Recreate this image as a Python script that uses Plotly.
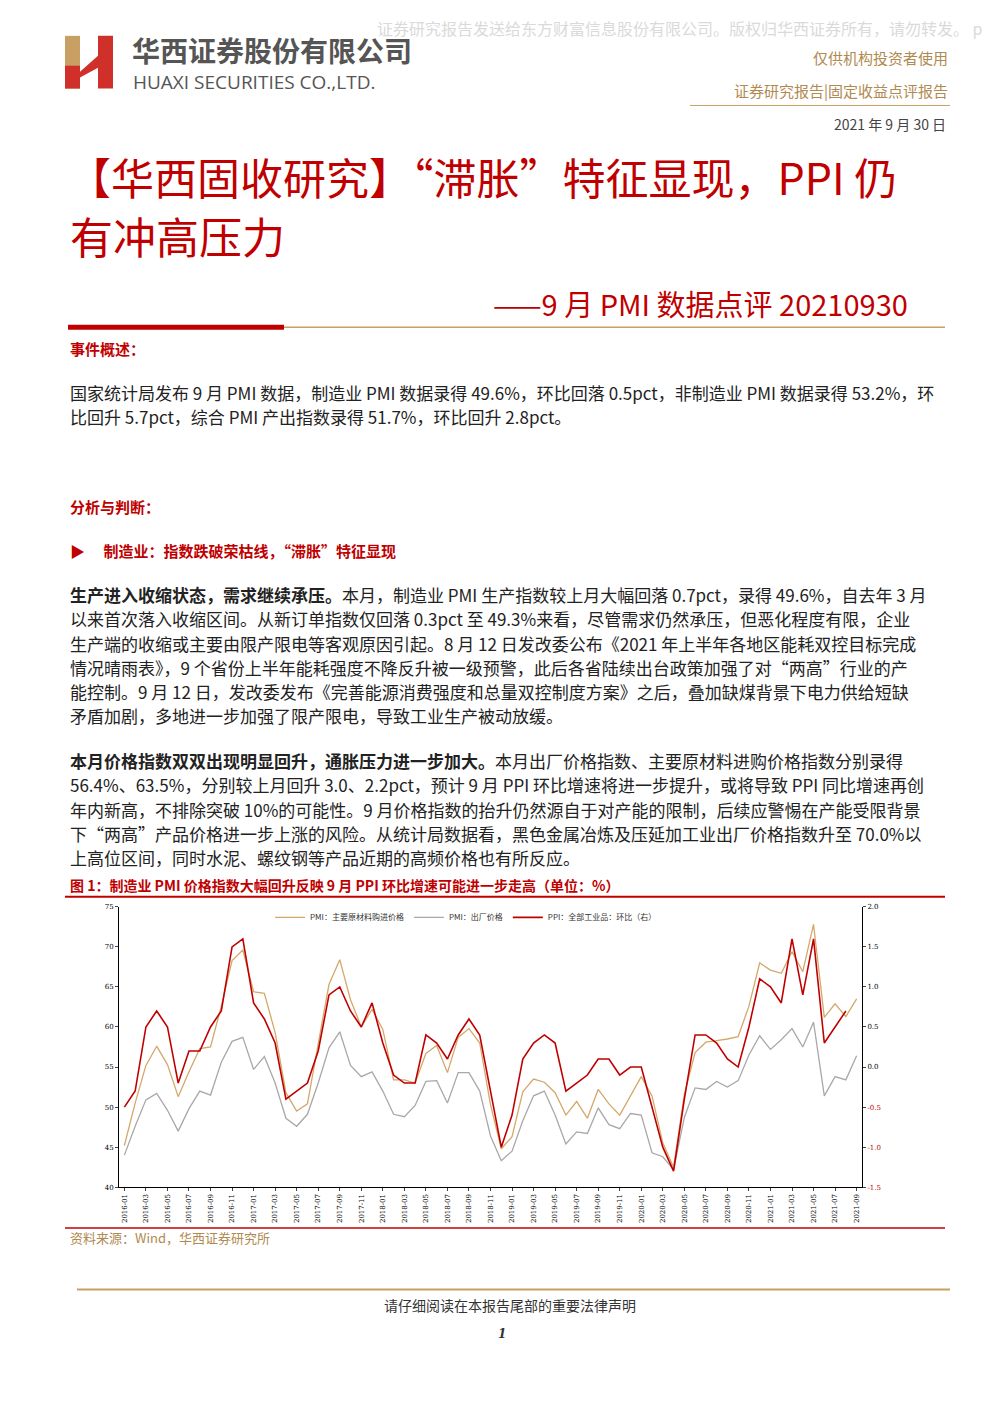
import plotly.graph_objects as go

months = [f"{y}-{m:02d}" for y in range(2016, 2022) for m in range(1, 13)][:69]

input_price = [45.2, 50.5, 55.2, 57.6, 55.3, 51.3, 54.4, 57.3, 57.5, 62.6, 68.3, 69.6,
               64.4, 64.2, 59.3, 51.8, 49.5, 50.4, 57.9, 65.3, 68.4, 63.4, 60.0, 62.2,
               59.7, 53.4, 53.4, 53.0, 56.7, 57.7, 54.3, 58.7, 59.8, 58.0, 50.3, 44.8,
               46.3, 51.9, 53.5, 53.1, 51.8, 49.0, 50.7, 48.6, 52.2, 50.4, 49.0, 51.4,
               53.8, 51.4, 45.5, 42.5, 51.6, 56.8, 58.1, 58.3, 58.5, 58.8, 62.6, 68.0,
               67.1, 66.7, 69.4, 66.9, 72.8, 61.2, 62.9, 61.3, 63.5]
output_price = [44.0, 47.6, 50.9, 51.7, 49.6, 47.0, 49.8, 52.0, 51.5, 55.6, 58.2, 58.7,
                54.7, 56.3, 53.0, 48.6, 47.6, 49.1, 53.0, 57.4, 59.4, 55.2, 53.8, 54.4,
                52.0, 49.1, 48.8, 50.2, 53.2, 53.3, 50.5, 54.3, 54.3, 52.0, 46.4, 43.3,
                44.5, 48.3, 51.4, 52.0, 49.0, 45.4, 46.9, 46.7, 49.9, 47.8, 47.3, 49.2,
                49.0, 44.3, 43.8, 42.2, 48.7, 52.4, 52.2, 53.2, 52.5, 53.3, 56.5, 58.9,
                57.2, 58.4, 59.8, 57.5, 60.6, 51.4, 53.8, 53.4, 56.4]
ppi_mom = [-0.5, -0.3, 0.5, 0.7, 0.5, -0.2, 0.2, 0.2, 0.5, 0.7, 1.5, 1.6,
           0.8, 0.6, 0.3, -0.4, -0.3, -0.2, 0.2, 0.9, 1.0, 0.7, 0.5, 0.8,
           0.3, -0.1, -0.2, -0.2, 0.4, 0.3, 0.1, 0.4, 0.6, 0.4, -0.3, -1.0,
           -0.6, 0.1, 0.3, 0.4, 0.3, -0.3, -0.2, -0.1, 0.1, 0.1, -0.1, 0.0,
           0.0, -0.5, -1.0, -1.3, -0.4, 0.4, 0.4, 0.3, 0.1, 0.0, 0.5, 1.1,
           1.0, 0.8, 1.6, 0.9, 1.6, 0.3, 0.5, 0.7]

right_ticks = [2.0, 1.5, 1.0, 0.5, 0.0, -0.5, -1.0, -1.5]

# the page body has an 8px margin, so the figure is a bit smaller and shifted
OFF = 8
W, H = 993 - 2 * OFF, 1404 - 2 * OFF
RED = "#C00000"
TAN = "#C8A063"
CJK = "Noto Sans CJK SC"

def px(x): return (x - OFF) / W
def py(y): return 1 - (y - OFF) / H

fig = go.Figure()
fig.add_trace(go.Scatter(x=months, y=input_price, name="PMI：主要原材料购进价格",
                         mode="lines", line=dict(color="#D4A86A", width=1.3)))
fig.add_trace(go.Scatter(x=months, y=output_price, name="PMI：出厂价格",
                         mode="lines", line=dict(color="#A8A8A8", width=1.3)))
fig.add_trace(go.Scatter(x=months[:len(ppi_mom)], y=ppi_mom, name="PPI：全部工业品：环比（右）",
                         mode="lines", line=dict(color=RED, width=1.6), yaxis="y2"))

tickfont = dict(family="DejaVu Serif", size=7, color="#000")
fig.update_layout(
    width=W, height=H, margin=dict(l=0, r=0, t=0, b=0),
    paper_bgcolor="white", plot_bgcolor="white", showlegend=True,
    legend=dict(orientation="h", x=px(270), xanchor="left", y=py(904), yanchor="top",
                font=dict(family=CJK, size=8, color="#333"), bgcolor="rgba(0,0,0,0)"),
    xaxis=dict(domain=[px(119), px(862)], type="category", tickangle=-90,
               tickvals=months[::2], tickfont=tickfont, showline=True, linecolor="#000",
               ticks="outside", ticklen=3, showgrid=False, range=[-0.5, 68.5]),
    yaxis=dict(domain=[py(1190), py(908)], range=[40, 75], dtick=5, tickfont=tickfont,
               showline=True, linecolor="#000", ticks="outside", ticklen=3, showgrid=False,
               zeroline=False),
    yaxis2=dict(overlaying="y", side="right", anchor="x", range=[-1.5, 2.0],
                tickvals=right_ticks,
                ticktext=[(f"<span style='color:{RED}'>{v:.1f}</span>" if v < 0 else f"{v:.1f}") for v in right_ticks],
                tickfont=tickfont, showline=True, linecolor="#000", ticks="outside",
                ticklen=3, showgrid=False, zeroline=False),
)

def text(x, y, s, size=17, color="#222", anchor="left", family=CJK, bold=False):
    if bold:
        s = f"<b>{s}</b>"
    fig.add_annotation(x=px(x), y=py(y), xref="paper", yref="paper", text=s, showarrow=False,
                       xanchor=anchor, yanchor="middle", font=dict(family=family, size=size, color=color))

def hline(x0, x1, y, color, width):
    fig.add_shape(type="line", xref="paper", yref="paper", x0=px(x0), x1=px(x1), y0=py(y), y1=py(y),
                  line=dict(color=color, width=width))

# logo
fig.add_shape(type="rect", xref="paper", yref="paper", x0=px(65), x1=px(80), y0=py(85), y1=py(32),
              fillcolor=TAN, line_width=0)
fig.add_shape(type="rect", xref="paper", yref="paper", x0=px(65), x1=px(80), y0=py(85), y1=py(62),
              fillcolor="#D0302A", line_width=0)
fig.add_shape(type="path", xref="paper", yref="paper",
              path=f"M {px(80)},{py(68)} L {px(98)},{py(52)} L {px(98)},{py(32)} L {px(113)},{py(32)} L {px(113)},{py(85)} L {px(98)},{py(85)} L {px(98)},{py(64)} L {px(80)},{py(74)} Z",
              fillcolor="#D0302A", line_width=0)
text(985, 24, "证券研究报告发送给东方财富信息股份有限公司。版权归华西证券所有，请勿转发。 p", size=16,
     color="#DADADA", anchor="right")
text(130, 46, "华西证券股份有限公司", size=28, color="#555", bold=True)
text(131, 78, "HUAXI SECURITIES CO.,LTD.", size=19, color="#555", family="Open Sans")
text(950, 54, "仅供机构投资者使用", size=15, color="#B08A50", anchor="right")
text(950, 87, "证券研究报告|固定收益点评报告", size=15, color="#B08A50", anchor="right")
hline(690, 950, 102, TAN, 1)
text(948, 121, "2021 年 9 月 30 日", size=14, color="#444", anchor="right")

text(66, 173, "【华西固收研究】“滞胀”特征显现，PPI 仍", size=43, color=RED)
text(68, 232, "有冲高压力", size=43, color=RED)
text(910, 301, "——9 月 PMI 数据点评 20210930", size=29, color=RED, anchor="right")
hline(284, 945, 325, TAN, 1.5)
hline(68, 284, 325, RED, 5)

text(68, 346, "事件概述：", size=15, color=RED, bold=True)
text(68, 391, "国家统计局发布 9 月 PMI 数据，制造业 PMI 数据录得 49.6%，环比回落 0.5pct，非制造业 PMI 数据录得 53.2%，环")
text(68, 415, "比回升 5.7pct，综合 PMI 产出指数录得 51.7%，环比回升 2.8pct。")

text(68, 505, "分析与判断：", size=15, color=RED, bold=True)
text(68, 550, "▶　 制造业：指数跌破荣枯线，“滞胀”特征显现", size=15, color=RED, bold=True)

p1 = ["<b>生产进入收缩状态，需求继续承压。</b>本月，制造业 PMI 生产指数较上月大幅回落 0.7pct，录得 49.6%，自去年 3 月",
      "以来首次落入收缩区间。从新订单指数仅回落 0.3pct 至 49.3%来看，尽管需求仍然承压，但恶化程度有限，企业",
      "生产端的收缩或主要由限产限电等客观原因引起。8 月 12 日发改委公布《2021 年上半年各地区能耗双控目标完成",
      "情况晴雨表》，9 个省份上半年能耗强度不降反升被一级预警，此后各省陆续出台政策加强了对“两高”行业的产",
      "能控制。9 月 12 日，发改委发布《完善能源消费强度和总量双控制度方案》之后，叠加缺煤背景下电力供给短缺",
      "矛盾加剧，多地进一步加强了限产限电，导致工业生产被动放缓。"]
for i, s in enumerate(p1):
    text(68, 594 + i * 24.4, s)

p2 = ["<b>本月价格指数双双出现明显回升，通胀压力进一步加大。</b>本月出厂价格指数、主要原材料进购价格指数分别录得",
      "56.4%、63.5%，分别较上月回升 3.0、2.2pct，预计 9 月 PPI 环比增速将进一步提升，或将导致 PPI 同比增速再创",
      "年内新高，不排除突破 10%的可能性。9 月价格指数的抬升仍然源自于对产能的限制，后续应警惕在产能受限背景",
      "下“两高”产品价格进一步上涨的风险。从统计局数据看，黑色金属冶炼及压延加工业出厂价格指数升至 70.0%以",
      "上高位区间，同时水泥、螺纹钢等产品近期的高频价格也有所反应。"]
for i, s in enumerate(p2):
    text(68, 761 + i * 24.4, s)

text(68, 886, "图 1：制造业 PMI 价格指数大幅回升反映 9 月 PPI 环比增速可能进一步走高（单位：%）", size=14,
     color=RED, bold=True)
hline(65, 945, 898, RED, 2)
hline(65, 945, 1231, RED, 1.5)
text(68, 1241, "资料来源：Wind，华西证券研究所", size=13, color="#B08A50")

hline(77, 950, 1293, TAN, 2)
text(510, 1308, "请仔细阅读在本报告尾部的重要法律声明", size=14, color="#333", anchor="center")
text(502, 1338, "<i>1</i>", size=12, color="#333", anchor="center", family="DejaVu Serif", bold=True)

fig.write_html("out.html")
